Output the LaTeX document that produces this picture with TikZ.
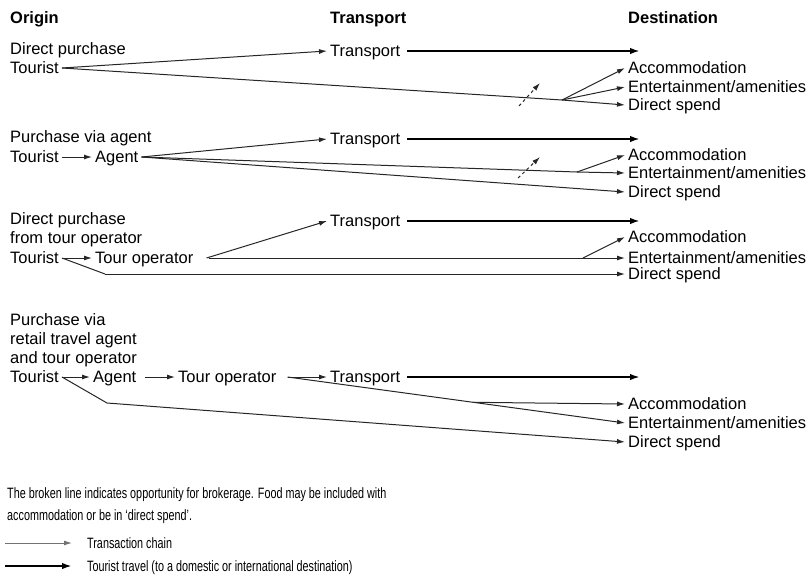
\documentclass[tikz,border=0pt]{standalone}
\usepackage{fontspec}
\setmainfont{Liberation Sans}
\newfontfamily\narrowsans[FakeStretch=0.72]{Liberation Sans}
\usetikzlibrary{arrows.meta}

\tikzset{
  lbl/.style={anchor=west, inner xsep=3pt, inner ysep=0pt,
              text height=11.8pt, text depth=0pt,
              font=\fontsize{16.5}{19}\selectfont},
  hdr/.style={lbl, font=\fontsize{16.5}{19}\selectfont\bfseries},
  note/.style={anchor=west, inner xsep=3pt, inner ysep=0pt,
               text height=10.8pt, text depth=0pt,
               font=\narrowsans\fontsize{15}{18}\selectfont},
  plain/.style={line width=1pt, black!85},
  chain/.style={plain, -{Latex[length=8pt,width=5pt]}},
  travel/.style={line width=2.3pt, black, -{Latex[length=10pt,width=6.5pt]}},
  broker/.style={plain, dash pattern=on 3pt off 3pt, -{Latex[length=8pt,width=5pt]}},
}

\begin{document}
\begin{tikzpicture}[x=1pt, y=-1pt]
\useasboundingbox (0,0) rectangle (808,576);

% column headings
\node[hdr] (hO) at (7,18)   {Origin};
\node[hdr] (hT) at (327,18) {Transport};
\node[hdr] (hD) at (625,18) {Destination};

% ---- direct purchase ----
\node[lbl] (s1)   at (7,49)    {Direct purchase};
\node[lbl] (t1)   at (7,68)    {Tourist};
\node[lbl] (tr1)  at (327,51)  {Transport};
\node[lbl] (acc1) at (625,68)  {Accommodation};
\node[lbl] (ent1) at (625,87)  {Entertainment/amenities};
\node[lbl] (ds1)  at (625,105) {Direct spend};
\coordinate (e1)  at (640,51);
\coordinate (b1)  at (562,100);
\coordinate (k1a) at (519,106);
\coordinate (k1b) at (540,83);

\draw[chain]  (t1.east) -- (tr1.west);
\draw[travel] ([xshift=4pt]tr1.east) -- (e1);
\draw[plain]  (t1.east) -- (b1);
\draw[chain]  (b1) -- (acc1.west);
\draw[chain]  (b1) -- (ent1.west);
\draw[chain]  (b1) -- (ds1.west);
\draw[broker] (k1a) -- (k1b);

% ---- purchase via agent ----
\node[lbl] (s2)   at (7,137)   {Purchase via agent};
\node[lbl] (t2)   at (7,157)   {Tourist};
\node[lbl] (ag2)  at (92,157)  {Agent};
\node[lbl] (tr2)  at (327,139) {Transport};
\node[lbl] (acc2) at (625,155) {Accommodation};
\node[lbl] (ent2) at (625,173) {Entertainment/amenities};
\node[lbl] (ds2)  at (625,192) {Direct spend};
\coordinate (e2)  at (640,139);
\coordinate (b2)  at (577,172);
\coordinate (k2a) at (518,178);
\coordinate (k2b) at (540,157);

\draw[chain]  (t2.east) -- (ag2.west);
\draw[chain]  (ag2.east) -- (tr2.west);
\draw[travel] ([xshift=4pt]tr2.east) -- (e2);
\draw[plain]  (ag2.east) -- (b2);
\draw[chain]  (b2) -- (acc2.west);
\draw[chain]  (b2) -- (ent2.west);
\draw[chain]  (ag2.east) -- (ds2.west);
\draw[broker] (k2a) -- (k2b);

% ---- direct purchase from tour operator ----
\node[lbl] (s3a)  at (7,219)   {Direct purchase};
\node[lbl] (s3b)  at (7,238)   {from tour operator};
\node[lbl] (t3)   at (7,258)   {Tourist};
\node[lbl] (op3)  at (92,258)  {Tour operator};
\node[lbl] (tr3)  at (327,221) {Transport};
\node[lbl] (acc3) at (625,237) {Accommodation};
\node[lbl] (ent3) at (625,258) {Entertainment/amenities};
\node[lbl] (ds3)  at (625,274) {Direct spend};
\coordinate (e3)  at (640,221);
\coordinate (b3)  at (583,258);
\coordinate (c3)  at (105,274);

\draw[chain]  (t3.east) -- (op3.west);
\draw[plain]  (t3.east) -- (c3);
\draw[chain]  (c3) -- (ds3.west);
\draw[chain]  ([xshift=10pt]op3.east) -- (tr3.west);
\draw[travel] ([xshift=4pt]tr3.east) -- (e3);
\draw[plain]  ([xshift=12pt]op3.east) -- (b3);
\draw[chain]  (b3) -- (ent3.west);
\draw[chain]  (b3) -- (acc3.west);

% ---- purchase via retail travel agent and tour operator ----
\node[lbl] (s4a)  at (7,320)   {Purchase via};
\node[lbl] (s4b)  at (7,339)   {retail travel agent};
\node[lbl] (s4c)  at (7,358)   {and tour operator};
\node[lbl] (t4)   at (7,377)   {Tourist};
\node[lbl] (ag4)  at (90,377)  {Agent};
\node[lbl] (op4)  at (175,377) {Tour operator};
\node[lbl] (tr4)  at (327,377) {Transport};
\node[lbl] (acc4) at (625,404) {Accommodation};
\node[lbl] (ent4) at (625,423) {Entertainment/amenities};
\node[lbl] (ds4)  at (625,442) {Direct spend};
\coordinate (e4)  at (640,377);
\coordinate (c4)  at (107,403);

\draw[chain]  (t4.east) -- (ag4.west);
\draw[chain]  ([xshift=5pt]ag4.east) -- (op4.west);
\draw[chain]  ([xshift=8pt]op4.east) -- (tr4.west);
\draw[travel] ([xshift=4pt]tr4.east) -- (e4);
\draw[chain]  ([xshift=8pt]op4.east) -- coordinate[pos=0.55] (b4) (ent4.west);
\draw[chain]  (b4) -- (acc4.west);
\draw[plain]  (t4.east) -- (c4);
\draw[chain]  (c4) -- (ds4.west);

% ---- notes and key ----
\node[note] (n1) at (4,493) {The broken line indicates opportunity for brokerage. Food may be included with};
\node[note] (n2) at (4,515) {accommodation or be in ‘direct spend’.};
\node[note] (lc) at (84,543) {Transaction chain};
\node[note] (lt) at (84,566) {Tourist travel (to a domestic or international destination)};
\coordinate (la) at (5,543);
\coordinate (lb) at (5,566);
\draw[chain, black!55] (la) -- ([xshift=-12pt]lc.west);
\draw[travel] (lb) -- ([xshift=-12pt]lt.west);
\end{tikzpicture}
\end{document}
